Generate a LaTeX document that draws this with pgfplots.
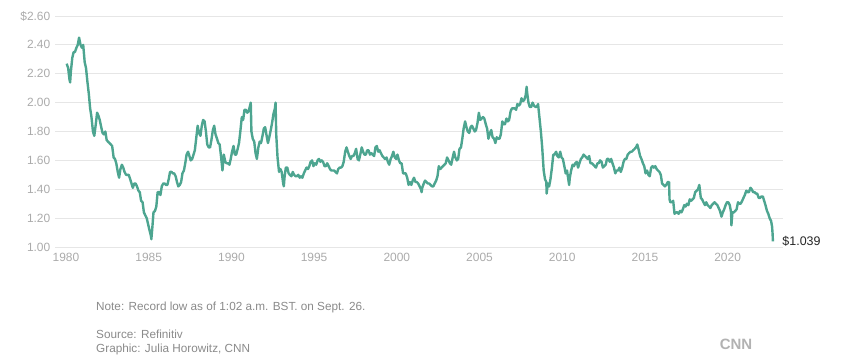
\documentclass[border=0pt]{standalone}
\usepackage{pgfplots}
\pgfplotsset{compat=1.18}
\usepackage{fontspec}
\setmainfont{Liberation Sans}
\definecolor{linec}{HTML}{4DA590}
\definecolor{gridc}{HTML}{E6E6E6}
\definecolor{tickc}{HTML}{ABABAB}
\definecolor{notec}{HTML}{8A8A8A}
\begin{document}
\begin{tikzpicture}[x=1bp,y=1bp]
\path (0,0) rectangle (863,363);
\begin{axis}[at={(55bp,116bp)}, anchor=south west, scale only axis,
  width=728bp, height=231bp,
  xmin=1979.335, xmax=2023.35, ymin=1, ymax=2.6,
  clip=false,
  axis line style={draw=none}, tick style={draw=none},
  ymajorgrids, grid style={gridc, line width=0.8bp},
  xtick={1980,1985,1990,1995,2000,2005,2010,2015,2020},
  xticklabels={1980,1985,1990,1995,2000,2005,2010,2015,2020},
  ytick={1,1.2,1.4,1.6,1.8,2,2.2,2.4,2.6},
  yticklabels={1.00,1.20,1.40,1.60,1.80,2.00,2.20,2.40,\$2.60},
  ticklabel style={font=\fontsize{12}{13}\selectfont, text=tickc},
  yticklabel style={xshift=-1.2bp},
  xticklabel style={yshift=-3bp},
]
\addplot[linec, line width=2.4bp, line join=round] coordinates {
(1980.04,2.27)(1980.13,2.24)(1980.21,2.16)(1980.25,2.14)(1980.29,2.21)(1980.38,2.31)(1980.46,2.35)(1980.54,2.35)(1980.63,2.38)(1980.71,2.40)(1980.79,2.45)(1980.88,2.40)(1980.96,2.38)
(1981.04,2.40)(1981.13,2.28)(1981.21,2.24)(1981.29,2.15)(1981.38,2.06)(1981.46,1.96)(1981.54,1.90)(1981.63,1.80)(1981.71,1.77)(1981.79,1.84)(1981.88,1.93)(1981.96,1.91)
(1982.04,1.88)(1982.13,1.83)(1982.21,1.79)(1982.29,1.78)(1982.38,1.80)(1982.46,1.74)(1982.54,1.73)(1982.63,1.72)(1982.71,1.71)(1982.79,1.70)(1982.88,1.62)(1982.96,1.61)
(1983.04,1.58)(1983.13,1.52)(1983.21,1.48)(1983.29,1.54)(1983.38,1.57)(1983.46,1.55)(1983.54,1.52)(1983.63,1.50)(1983.71,1.50)(1983.79,1.50)(1983.88,1.47)(1983.96,1.44)
(1984.04,1.41)(1984.13,1.44)(1984.21,1.44)(1984.29,1.42)(1984.38,1.39)(1984.46,1.38)(1984.54,1.32)(1984.63,1.31)(1984.71,1.24)(1984.79,1.22)(1984.88,1.20)(1984.96,1.16)
(1985.04,1.12)(1985.13,1.08)(1985.16,1.054)(1985.21,1.12)(1985.29,1.24)(1985.38,1.25)(1985.46,1.28)(1985.54,1.38)(1985.63,1.38)(1985.71,1.36)(1985.79,1.42)(1985.88,1.44)(1985.96,1.44)
(1986.04,1.43)(1986.13,1.43)(1986.21,1.47)(1986.29,1.52)(1986.38,1.52)(1986.46,1.51)(1986.54,1.51)(1986.63,1.49)(1986.71,1.45)(1986.79,1.42)(1986.88,1.43)(1986.96,1.45)
(1987.04,1.51)(1987.13,1.53)(1987.21,1.58)(1987.29,1.64)(1987.38,1.66)(1987.46,1.63)(1987.54,1.60)(1987.63,1.61)(1987.71,1.64)(1987.79,1.67)(1987.88,1.76)(1987.96,1.84)
(1988.04,1.79)(1988.13,1.77)(1988.21,1.84)(1988.29,1.88)(1988.38,1.87)(1988.46,1.80)(1988.54,1.71)(1988.63,1.69)(1988.71,1.69)(1988.79,1.74)(1988.88,1.81)(1988.96,1.84)
(1989.04,1.78)(1989.13,1.75)(1989.21,1.72)(1989.29,1.71)(1989.38,1.62)(1989.46,1.53)(1989.54,1.64)(1989.63,1.59)(1989.71,1.58)(1989.79,1.58)(1989.88,1.57)(1989.96,1.61)
(1990.04,1.66)(1990.13,1.70)(1990.21,1.64)(1990.29,1.64)(1990.38,1.68)(1990.46,1.72)(1990.54,1.80)(1990.63,1.90)(1990.71,1.88)(1990.79,1.95)(1990.88,1.95)(1990.96,1.93)
(1991.04,1.94)(1991.13,1.98)(1991.17,2.00)(1991.21,1.80)(1991.29,1.75)(1991.38,1.73)(1991.46,1.65)(1991.54,1.61)(1991.63,1.69)(1991.71,1.73)(1991.79,1.72)(1991.88,1.77)(1991.96,1.82)
(1992.04,1.83)(1992.13,1.77)(1992.21,1.72)(1992.29,1.76)(1992.38,1.81)(1992.46,1.86)(1992.54,1.92)(1992.63,1.96)(1992.67,2.00)(1992.71,1.78)(1992.79,1.62)(1992.88,1.52)(1992.96,1.54)
(1993.04,1.52)(1993.13,1.44)(1993.17,1.42)(1993.21,1.48)(1993.29,1.55)(1993.38,1.55)(1993.46,1.51)(1993.54,1.50)(1993.63,1.49)(1993.71,1.52)(1993.79,1.50)(1993.88,1.49)(1993.96,1.49)
(1994.04,1.50)(1994.13,1.48)(1994.21,1.49)(1994.29,1.48)(1994.38,1.51)(1994.46,1.53)(1994.54,1.55)(1994.63,1.54)(1994.71,1.56)(1994.79,1.59)(1994.88,1.60)(1994.96,1.56)
(1995.04,1.58)(1995.13,1.57)(1995.21,1.60)(1995.29,1.61)(1995.38,1.59)(1995.46,1.60)(1995.54,1.59)(1995.63,1.56)(1995.71,1.56)(1995.79,1.58)(1995.88,1.56)(1995.96,1.54)
(1996.04,1.53)(1996.13,1.53)(1996.21,1.53)(1996.29,1.52)(1996.38,1.51)(1996.46,1.54)(1996.54,1.55)(1996.63,1.55)(1996.71,1.56)(1996.79,1.59)(1996.88,1.66)(1996.96,1.69)
(1997.04,1.66)(1997.13,1.63)(1997.21,1.61)(1997.29,1.63)(1997.38,1.63)(1997.46,1.65)(1997.54,1.68)(1997.63,1.61)(1997.71,1.60)(1997.79,1.64)(1997.88,1.69)(1997.96,1.66)
(1998.04,1.64)(1998.13,1.64)(1998.21,1.67)(1998.29,1.67)(1998.38,1.64)(1998.46,1.65)(1998.54,1.64)(1998.63,1.63)(1998.71,1.69)(1998.79,1.70)(1998.88,1.66)(1998.96,1.67)
(1999.04,1.65)(1999.13,1.63)(1999.21,1.62)(1999.29,1.61)(1999.38,1.62)(1999.46,1.59)(1999.54,1.57)(1999.63,1.61)(1999.71,1.63)(1999.79,1.66)(1999.88,1.62)(1999.96,1.61)
(2000.04,1.64)(2000.13,1.60)(2000.21,1.58)(2000.29,1.58)(2000.38,1.51)(2000.46,1.51)(2000.54,1.51)(2000.63,1.48)(2000.71,1.43)(2000.79,1.45)(2000.88,1.43)(2000.96,1.46)
(2001.04,1.48)(2001.13,1.45)(2001.21,1.45)(2001.29,1.44)(2001.38,1.42)(2001.46,1.40)(2001.50,1.38)(2001.54,1.41)(2001.63,1.44)(2001.71,1.46)(2001.79,1.45)(2001.88,1.44)(2001.96,1.44)
(2002.04,1.43)(2002.13,1.42)(2002.21,1.42)(2002.29,1.44)(2002.38,1.46)(2002.46,1.49)(2002.54,1.56)(2002.63,1.54)(2002.71,1.55)(2002.79,1.56)(2002.88,1.57)(2002.96,1.58)
(2003.04,1.62)(2003.13,1.60)(2003.21,1.58)(2003.29,1.57)(2003.38,1.62)(2003.46,1.66)(2003.54,1.62)(2003.63,1.60)(2003.71,1.61)(2003.79,1.68)(2003.88,1.69)(2003.96,1.75)
(2004.04,1.82)(2004.13,1.87)(2004.21,1.83)(2004.29,1.80)(2004.38,1.79)(2004.46,1.83)(2004.54,1.84)(2004.63,1.82)(2004.71,1.80)(2004.79,1.81)(2004.88,1.86)(2004.96,1.93)
(2005.04,1.88)(2005.13,1.89)(2005.21,1.90)(2005.29,1.89)(2005.38,1.85)(2005.46,1.82)(2005.54,1.75)(2005.63,1.79)(2005.71,1.81)(2005.79,1.76)(2005.88,1.75)(2005.96,1.72)
(2006.04,1.76)(2006.13,1.75)(2006.21,1.75)(2006.29,1.78)(2006.38,1.87)(2006.46,1.85)(2006.54,1.85)(2006.63,1.89)(2006.71,1.87)(2006.79,1.88)(2006.88,1.94)(2006.96,1.96)
(2007.04,1.96)(2007.13,1.96)(2007.21,1.95)(2007.29,1.99)(2007.38,1.98)(2007.46,1.99)(2007.54,2.03)(2007.63,2.01)(2007.71,2.02)(2007.79,2.05)(2007.85,2.11)(2007.88,2.07)(2007.96,2.00)
(2008.04,1.97)(2008.13,1.97)(2008.21,2.00)(2008.29,1.98)(2008.38,1.97)(2008.46,1.97)(2008.54,1.99)(2008.63,1.89)(2008.71,1.80)(2008.79,1.69)(2008.88,1.53)(2008.96,1.47)
(2009.04,1.45)(2009.06,1.37)(2009.13,1.44)(2009.21,1.42)(2009.29,1.47)(2009.38,1.55)(2009.46,1.64)(2009.54,1.64)(2009.63,1.66)(2009.71,1.63)(2009.79,1.62)(2009.88,1.66)(2009.96,1.62)
(2010.04,1.61)(2010.13,1.56)(2010.21,1.51)(2010.29,1.53)(2010.38,1.46)(2010.42,1.43)(2010.46,1.48)(2010.54,1.53)(2010.63,1.57)(2010.71,1.56)(2010.79,1.58)(2010.88,1.59)(2010.96,1.55)
(2011.04,1.58)(2011.13,1.61)(2011.21,1.62)(2011.29,1.64)(2011.38,1.63)(2011.46,1.62)(2011.54,1.61)(2011.63,1.63)(2011.71,1.58)(2011.79,1.58)(2011.88,1.57)(2011.96,1.56)
(2012.04,1.55)(2012.13,1.58)(2012.21,1.58)(2012.29,1.60)(2012.38,1.59)(2012.46,1.55)(2012.54,1.56)(2012.63,1.57)(2012.71,1.61)(2012.79,1.61)(2012.88,1.59)(2012.96,1.61)
(2013.04,1.58)(2013.13,1.55)(2013.21,1.51)(2013.29,1.53)(2013.38,1.53)(2013.46,1.55)(2013.54,1.52)(2013.63,1.55)(2013.71,1.59)(2013.79,1.61)(2013.88,1.61)(2013.96,1.64)
(2014.04,1.65)(2014.13,1.66)(2014.21,1.66)(2014.29,1.67)(2014.38,1.68)(2014.46,1.69)(2014.54,1.71)(2014.63,1.67)(2014.71,1.63)(2014.79,1.61)(2014.88,1.58)(2014.96,1.56)
(2015.04,1.51)(2015.13,1.53)(2015.21,1.50)(2015.29,1.49)(2015.38,1.55)(2015.46,1.56)(2015.54,1.55)(2015.63,1.56)(2015.71,1.54)(2015.79,1.53)(2015.88,1.52)(2015.96,1.50)
(2016.04,1.44)(2016.13,1.43)(2016.21,1.42)(2016.29,1.43)(2016.38,1.45)(2016.46,1.45)(2016.49,1.33)(2016.54,1.31)(2016.63,1.31)(2016.71,1.32)(2016.79,1.23)(2016.88,1.24)(2016.96,1.24)
(2017.04,1.23)(2017.13,1.25)(2017.21,1.24)(2017.29,1.26)(2017.38,1.29)(2017.46,1.28)(2017.54,1.30)(2017.63,1.29)(2017.71,1.33)(2017.79,1.32)(2017.88,1.33)(2017.96,1.34)
(2018.04,1.38)(2018.13,1.39)(2018.21,1.40)(2018.29,1.43)(2018.38,1.34)(2018.46,1.33)(2018.54,1.31)(2018.63,1.29)(2018.71,1.31)(2018.79,1.29)(2018.88,1.28)(2018.96,1.27)
(2019.04,1.29)(2019.13,1.30)(2019.21,1.31)(2019.29,1.30)(2019.38,1.29)(2019.46,1.27)(2019.54,1.25)(2019.63,1.21)(2019.71,1.24)(2019.79,1.26)(2019.88,1.29)(2019.96,1.31)
(2020.04,1.31)(2020.13,1.29)(2020.21,1.24)(2020.23,1.15)(2020.29,1.24)(2020.38,1.24)(2020.46,1.25)(2020.54,1.26)(2020.63,1.31)(2020.71,1.30)(2020.79,1.30)(2020.88,1.32)(2020.96,1.34)
(2021.04,1.36)(2021.13,1.39)(2021.21,1.38)(2021.29,1.38)(2021.38,1.41)(2021.46,1.40)(2021.54,1.38)(2021.63,1.38)(2021.71,1.37)(2021.79,1.37)(2021.88,1.34)(2021.96,1.34)
(2022.04,1.35)(2022.13,1.35)(2022.21,1.32)(2022.29,1.29)(2022.38,1.25)(2022.46,1.23)(2022.54,1.20)(2022.63,1.18)(2022.69,1.14)(2022.72,1.09)(2022.74,1.039)
};
\node[anchor=west, font=\fontsize{12.5}{14}\selectfont, text=black!85, xshift=6bp] at (axis cs:2022.74,1.039) {\$1.039};
\end{axis}
\node[anchor=base west, inner sep=0pt, font=\fontsize{11.8}{13}\selectfont, text=notec] at (96,53) {Note: Record low as of 1:02 a.m. BST. on Sept. 26.};
\node[anchor=base west, inner sep=0pt, font=\fontsize{11.8}{13}\selectfont, text=notec] at (96,25) {Source: Refinitiv};
\node[anchor=base west, inner sep=0pt, font=\fontsize{11.8}{13}\selectfont, text=notec] at (96,11) {Graphic: Julia Horowitz, CNN};
\node[inner sep=0pt, font=\bfseries\fontsize{15}{15}\selectfont, text=black!30] at (736,19) {CNN};
\end{tikzpicture}
\end{document}
